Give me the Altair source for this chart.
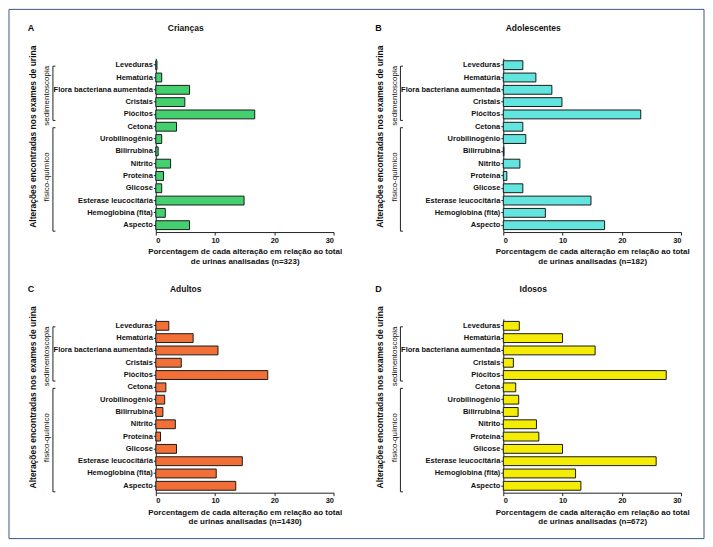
import altair as alt
import pandas as pd

categorias = ["Leveduras", "Hematúria", "Flora bacteriana aumentada", "Cristais", "Piócitos",
              "Cetona", "Urobilinogênio", "Bilirrubina", "Nitrito", "Proteína", "Glicose",
              "Esterase leucocitária", "Hemoglobina (fita)", "Aspecto"]

criancas = [0.2, 1.0, 5.7, 4.9, 16.7, 3.5, 1.0, 0.4, 2.5, 1.3, 1.0, 14.9, 1.6, 5.7]
adolescentes = [3.3, 5.5, 8.2, 9.9, 23.2, 3.3, 3.8, 0.1, 2.8, 0.6, 3.3, 14.8, 7.1, 17.1]
adultos = [2.2, 6.3, 10.5, 4.3, 18.9, 1.7, 1.5, 1.2, 3.3, 0.8, 3.5, 14.6, 10.2, 13.5]
idosos = [2.7, 10.0, 15.5, 1.7, 27.5, 2.1, 2.6, 2.5, 5.6, 6.0, 10.0, 25.8, 12.2, 13.1]

paineis = [
    ("A", "Crianças", criancas, "#44d06f", 323),
    ("B", "Adolescentes", adolescentes, "#62e4df", 182),
    ("C", "Adultos", adultos, "#f26f37", 1430),
    ("D", "Idosos", idosos, "#f5ec05", 672),
]

# brackets: label, first category, last category, category at label centre, label offset
chaves = [
    ("sedimentoscopia", "Leveduras", "Piócitos", "Flora bacteriana aumentada", 6),
    ("físico-químico", "Cetona", "Aspecto", "Proteína", 1),
]

FONT = "Liberation Sans"
W, H = 178, 174
ESCALA_Y = alt.Scale(domain=categorias, paddingInner=0.28, paddingOuter=0.2)


def painel(letra, titulo, valores, cor, n, moldura=False):
    df = pd.DataFrame({"cat": categorias, "val": valores})
    barras = alt.Chart(df).mark_bar(fill=cor, stroke="#1a1a1a", strokeWidth=1).encode(
        x=alt.X("val:Q", scale=alt.Scale(domain=[0, 30]),
                axis=alt.Axis(values=[0, 10, 20, 30], grid=False, tickSize=3, labelPadding=1,
                              labelFontSize=7.5, labelFontWeight="bold", labelColor="#111",
                              domainColor="#222", tickColor="#222", labelFont=FONT,
                              title=["Porcentagem de cada alteração em relação ao total",
                                     f"de urinas analisadas (n={n})"],
                              titleFont=FONT, titleFontSize=8, titleFontWeight="bold",
                              titleColor="#111", titleLineHeight=9.5, titlePadding=4)),
        y=alt.Y("cat:N", scale=ESCALA_Y,
                axis=alt.Axis(tickSize=2.5, labelPadding=1, labelFontSize=7.5,
                              labelFontWeight="bold", labelColor="#111", labelFont=FONT,
                              domainColor="#222", tickColor="#222",
                              title="Alterações encontradas nos exames de urina",
                              titleFont=FONT, titleFontSize=8.5, titleFontWeight="bold",
                              titleColor="#111", titleAngle=270, titleX=-123.5, titleY=78,
                              titleAlign="center", titleBaseline="middle")),
    )
    camadas = [barras]
    for rotulo, ini, fim, meio, off in chaves:
        dfc = pd.DataFrame({"ini": [ini], "fim": [fim], "meio": [meio], "rotulo": [rotulo]})
        base = alt.Chart(dfc)
        camadas.append(base.mark_rule(color="#222", strokeWidth=1, yOffset=1, y2Offset=6).encode(
            x=alt.value(-103), y=alt.Y("ini:N", scale=ESCALA_Y, axis=None), y2="fim:N"))
        camadas.append(base.mark_rule(color="#222", strokeWidth=1, yOffset=1).encode(
            x=alt.value(-103), x2=alt.value(-100.5), y=alt.Y("ini:N", scale=ESCALA_Y, axis=None)))
        camadas.append(base.mark_rule(color="#222", strokeWidth=1, yOffset=6).encode(
            x=alt.value(-103), x2=alt.value(-100.5), y=alt.Y("fim:N", scale=ESCALA_Y, axis=None)))
        camadas.append(base.mark_text(angle=270, font=FONT, fontSize=8, color="#111",
                                      align="center", baseline="middle", yOffset=off).encode(
            x=alt.value(-108.5), y=alt.Y("meio:N", scale=ESCALA_Y, axis=None), text="rotulo:N"))
    dft = pd.DataFrame({"letra": [letra], "titulo": [titulo]})
    camadas.append(alt.Chart(dft).mark_text(font=FONT, fontSize=9, fontWeight="bold", color="#111",
                                            align="center", baseline="middle").encode(
        x=alt.value(-125), y=alt.value(-30), text="letra:N"))
    camadas.append(alt.Chart(dft).mark_text(font=FONT, fontSize=8.5, fontWeight="bold", color="#111",
                                            align="center", baseline="middle").encode(
        x=alt.value(30), y=alt.value(-30), text="titulo:N"))
    if moldura:
        camadas.insert(0, alt.Chart(pd.DataFrame({"m": [0]})).mark_rect(
            fill="white", fillOpacity=0, stroke="#3b5683", strokeWidth=1).encode(
            x=alt.value(-147), x2=alt.value(549), y=alt.value(-49), y2=alt.value(481)))
    return alt.layer(*camadas).resolve_axis(y="independent").properties(width=W, height=H)


graficos = [painel(*p, moldura=(i == 0)) for i, p in enumerate(paineis)]

chart = alt.concat(*graficos, columns=2, spacing={"row": 87, "column": 170},
                   bounds="flush").properties(padding=0, background="white").configure_view(stroke=None)

chart.save("out.html", embed_options={"renderer": "svg", "actions": False})
